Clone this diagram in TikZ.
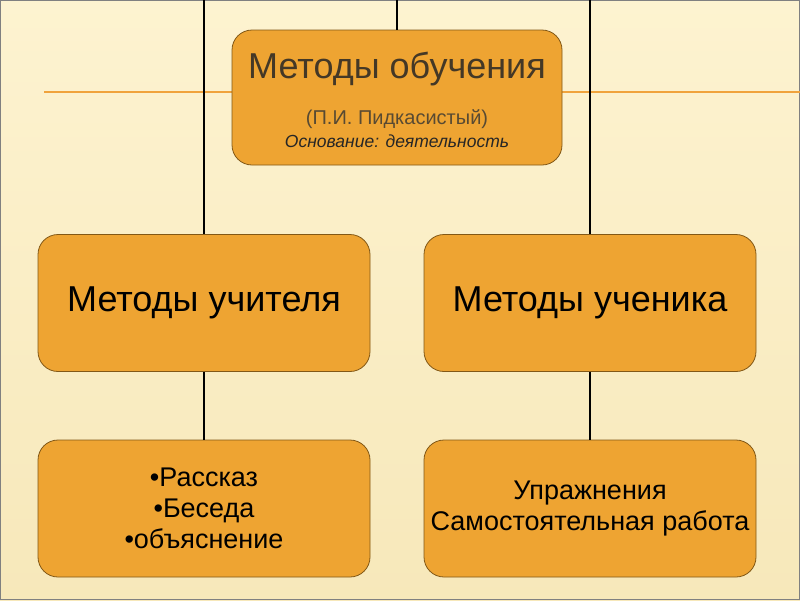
\documentclass[tikz,border=0pt]{standalone}
\usepackage{fontspec}
\setmainfont{Liberation Sans}
\usetikzlibrary{positioning,calc}
\definecolor{bgcream}{RGB}{253,243,208}
\definecolor{bgdark}{RGB}{247,232,186}
\definecolor{boxfill}{RGB}{238,164,50}
\definecolor{boxline}{RGB}{130,88,22}
\definecolor{rulecol}{RGB}{240,163,60}
\definecolor{titlecol}{RGB}{68,56,38}
\definecolor{subcol}{RGB}{88,74,50}

\begin{document}
\begin{tikzpicture}[x=1pt,y=-1pt,
  box/.style={draw=boxline, line width=0.8pt, fill=boxfill, rounded corners=20pt,
    minimum width=332pt, minimum height=137pt, align=center, inner sep=0pt},
  link/.style={black, line width=1.6pt}]
  % page background
  \useasboundingbox (0,0) rectangle (800,600);
  \shade[top color=bgcream, bottom color=bgdark] (0,0) rectangle (800,600);
  \draw[gray, line width=1pt] (0.5,0.5) rectangle (799.5,599.5);
  % orange rule behind the chart
  \draw[rulecol, line width=1.6pt] (44,92) -- (800,92);

  % top box
  \node[box, minimum width=330pt, minimum height=135pt] (methods) at (397,97.5) {};
  \node[anchor=base, text=titlecol, font=\fontsize{36}{42}\selectfont] (title) at (397,78)
    {Методы обучения};
  \node[anchor=base, text=subcol, font=\fontsize{20}{24}\selectfont] (author) at (397,124)
    {(П.И. Пидкасистый)};
  \node[anchor=base, text=black!85, font=\fontsize{17.5}{21}\selectfont\itshape] (basis) at (397,147)
    {Основание: деятельность};

  % second row
  \node[box, font=\fontsize{36}{42}\selectfont] (teacher) at (204,303) {Методы учителя};
  \node[box, font=\fontsize{36}{42}\selectfont] (student) at (590,303) {Методы ученика};

  % third row
  \node[box, font=\fontsize{27}{31}\selectfont] (teacherlist) at (204,508.5)
    {•Рассказ\\•Беседа\\•объяснение};
  \node[box, font=\fontsize{27}{31}\selectfont] (studentlist) at (590,508.5)
    {Упражнения\\Самостоятельная работа};

  % vertical connectors from the top edge
  \coordinate (topL) at (204,0);
  \coordinate (topM) at (397,0);
  \coordinate (topR) at (590,0);
  \draw[link] (topM) -- (methods);
  \draw[link] (topL) -- (teacher);
  \draw[link] (topR) -- (student);
  \draw[link] (teacher) -- (teacherlist);
  \draw[link] (student) -- (studentlist);
\end{tikzpicture}
\end{document}
